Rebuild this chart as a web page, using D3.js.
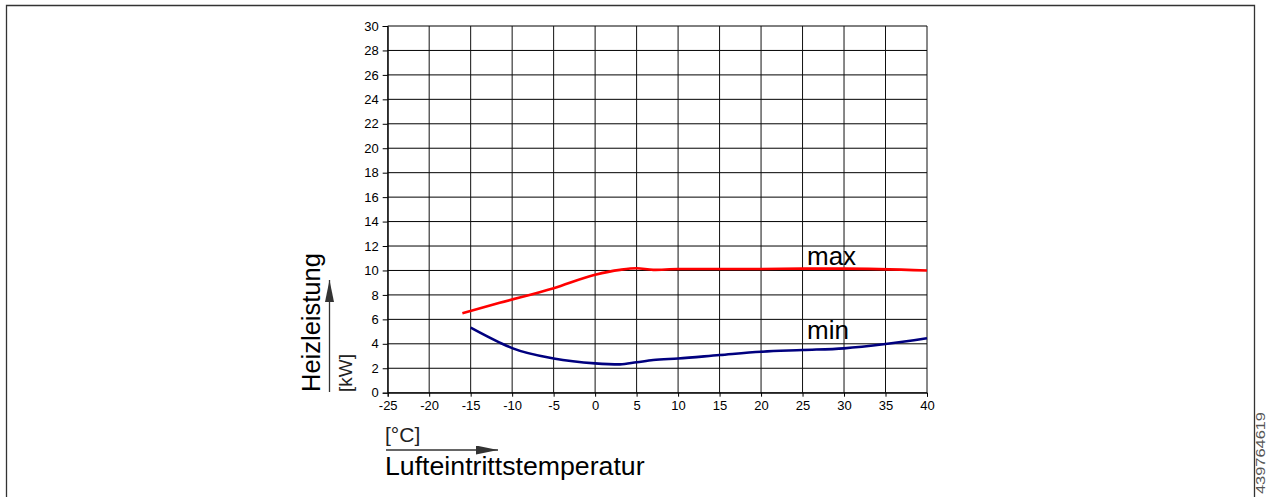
<!DOCTYPE html>
<html>
<head>
<meta charset="utf-8">
<script src="https://cdn.jsdelivr.net/npm/d3@7"></script>
<style>
  html, body { margin: 0; padding: 0; background: #fff; }
  svg { display: block; font-family: "Liberation Sans", Arial, sans-serif; }
</style>
</head>
<body>
<svg id="chart" width="1267" height="497"></svg>
<script>
// ---- data ----
const xTicks = [-25, -20, -15, -10, -5, 0, 5, 10, 15, 20, 25, 30, 35, 40];
const yTicks = [0, 2, 4, 6, 8, 10, 12, 14, 16, 18, 20, 22, 24, 26, 28, 30];
const maxTemps  = [-16, -11.5, -5, 0, 3, 5, 7, 10, 20, 25, 30, 40];
const maxValues = [6.5, 7.35, 8.55, 9.65, 10.05, 10.18, 10.05, 10.12, 10.12, 10.15, 10.15, 10.0];
const minTemps  = [-15, -11.5, -10, -5, 0, 3, 5, 7, 10, 15, 20, 25, 30, 35, 40];
const minValues = [5.32, 4.1, 3.65, 2.8, 2.4, 2.32, 2.49, 2.67, 2.8, 3.08, 3.35, 3.49, 3.63, 3.98, 4.45];
const seriesLabels = ["max", "min"];
const yTitle = "Heizleistung", yUnit = "[kW]";
const xTitle = "Lufteintrittstemperatur", xUnit = "[°C]";
const docId = "439764619";

const svg = d3.select("#chart");
const W = 1267, H = 497;

// frame
svg.append("path")
  .attr("d", `M6.5,${H} V5.5 H1254.5 V${H}`)
  .attr("fill", "none").attr("stroke", "#333").attr("stroke-width", 1.3);

const x = d3.scaleLinear().domain([-25, 40]).range([387.7, 927]);
const y = d3.scaleLinear().domain([0, 30]).range([392.7, 26]);

// grid
const g = svg.append("g");
g.selectAll("line.h").data(yTicks).join("line")
  .attr("x1", x(-25)).attr("x2", x(40))
  .attr("y1", d => y(d)).attr("y2", d => y(d))
  .attr("stroke", "#000").attr("stroke-width", 1);
g.selectAll("line.v").data(xTicks).join("line")
  .attr("y1", y(0)).attr("y2", y(30))
  .attr("x1", d => x(d)).attr("x2", d => x(d))
  .attr("stroke", "#111").attr("stroke-width", 1);

// axes
const fmt = d => String(d);
const yAxis = svg.append("g").attr("transform", `translate(${x(-25)},0)`)
  .call(d3.axisLeft(y).tickValues(yTicks).tickSize(5).tickPadding(4).tickFormat(fmt));
const xAxis = svg.append("g").attr("transform", `translate(0,${y(0)})`)
  .call(d3.axisBottom(x).tickValues(xTicks).tickSize(4).tickPadding(4).tickFormat(fmt));
[yAxis, xAxis].forEach(a => {
  a.select(".domain").attr("stroke", "#000");
  a.selectAll(".tick line").attr("stroke", "#000");
  a.selectAll("text").attr("font-size", 13).attr("fill", "#000")
    .attr("font-family", "Liberation Sans, Arial, sans-serif");
});

// lines
const line = d3.line().x(d => x(d[0])).y(d => y(d[1])).curve(d3.curveMonotoneX);
svg.append("path").datum(maxTemps.map((t, i) => [t, maxValues[i]]))
  .attr("d", line).attr("fill", "none").attr("stroke", "#ff0000").attr("stroke-width", 2.6);
svg.append("path").datum(minTemps.map((t, i) => [t, minValues[i]]))
  .attr("d", line).attr("fill", "none").attr("stroke", "#00007f").attr("stroke-width", 2.6);

// series labels
svg.append("text").attr("x", 807).attr("y", 265).attr("font-size", 26).text(seriesLabels[0]);
svg.append("text").attr("x", 807).attr("y", 339).attr("font-size", 26).text(seriesLabels[1]);

// arrow marker
svg.append("defs").append("marker")
  .attr("id", "arr").attr("viewBox", "0 0 10 10").attr("refX", 10).attr("refY", 5)
  .attr("markerWidth", 22).attr("markerHeight", 9).attr("markerUnits", "userSpaceOnUse")
  .attr("preserveAspectRatio", "none")
  .attr("orient", "auto")
  .append("path").attr("d", "M0,0 L10,5 L0,10 Z").attr("fill", "#333");

// y title
svg.append("text").attr("transform", "translate(320,392) rotate(-90)")
  .attr("font-size", 25.5).text(yTitle);
svg.append("line").attr("x1", 329.5).attr("x2", 329.5).attr("y1", 392).attr("y2", 280)
  .attr("stroke", "#333").attr("stroke-width", 1.3).attr("marker-end", "url(#arr)");
svg.append("text").attr("transform", "translate(352,392) rotate(-90)")
  .attr("font-size", 19).attr("fill", "#222").text(yUnit);

// x title
svg.append("text").attr("x", 385).attr("y", 442).attr("font-size", 21).attr("fill", "#222").text(xUnit);
svg.append("line").attr("x1", 386).attr("x2", 498).attr("y1", 450).attr("y2", 450)
  .attr("stroke", "#333").attr("stroke-width", 1.3).attr("marker-end", "url(#arr)");
svg.append("text").attr("x", 385).attr("y", 475).attr("font-size", 26.7).text(xTitle);

// document id
svg.append("text").attr("transform", "translate(1264.5,494) rotate(-90)")
  .attr("font-size", 12).attr("fill", "#555")
  .attr("textLength", 82).attr("lengthAdjust", "spacingAndGlyphs").text(docId);
</script>
</body>
</html>
